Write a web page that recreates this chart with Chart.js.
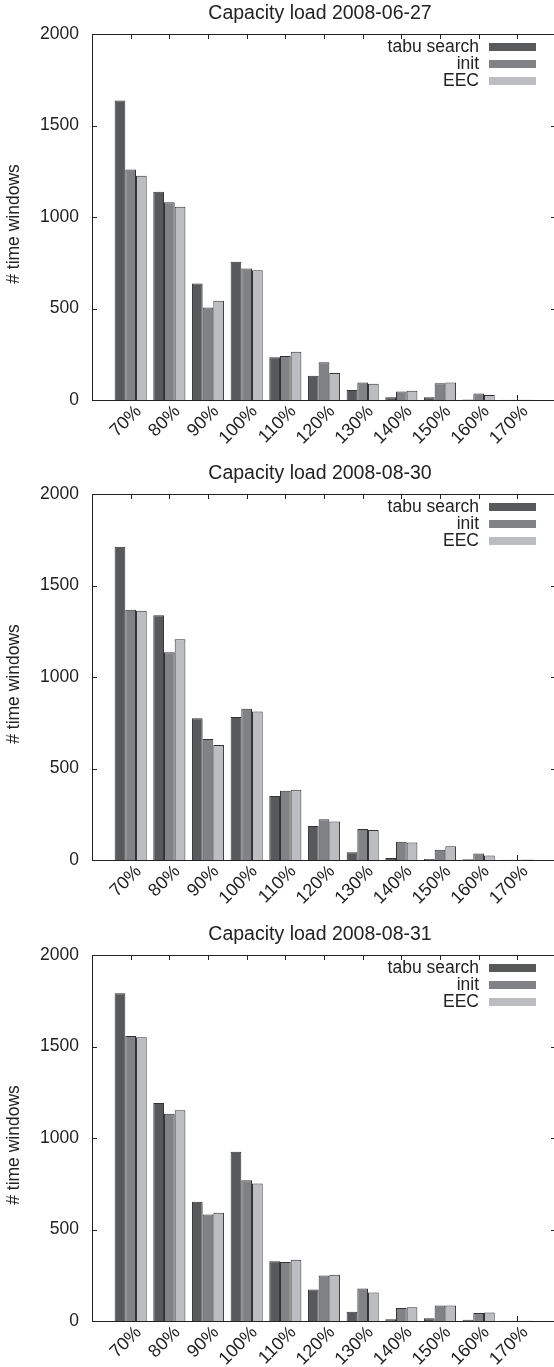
<!DOCTYPE html>
<html><head><meta charset="utf-8">
<script src="https://cdn.jsdelivr.net/npm/chart.js@4.4.1/dist/chart.umd.min.js"></script>
<style>
html,body{margin:0;padding:0;background:#fff;overflow:hidden;width:554px;height:1367px;position:relative;}
.blk{position:absolute;left:0;width:557px;height:446px;}
</style></head><body>
<div class="blk" style="top:0"><canvas id="c0" width="557" height="446"></canvas></div>
<div class="blk" style="top:460px"><canvas id="c1" width="557" height="446"></canvas></div>
<div class="blk" style="top:921px"><canvas id="c2" width="557" height="446"></canvas></div>
<script>
const categories = ['70%','80%','90%','100%','110%','120%','130%','140%','150%','160%','170%'];
const seriesNames = ['tabu search','init','EEC'];
const titles = ['Capacity load 2008-06-27','Capacity load 2008-08-30','Capacity load 2008-08-31'];
const yTitle = '# time windows';
const yTicks = [0,500,1000,1500,2000];

const tabu_0627 = [1637,1138,637,756,233,132,55,15,15,3,2];
const init_0627 = [1260,1080,506,719,240,206,95,47,91,35,1];
const eec_0627  = [1226,1056,543,709,264,148,89,51,95,27,1];

const tabu_0830 = [1712,1337,774,781,350,186,42,11,5,4,2];
const init_0830 = [1368,1135,661,827,379,222,169,100,56,35,1];
const eec_0830  = [1362,1206,628,812,384,211,164,95,75,25,3];

const tabu_0831 = [1791,1191,651,925,327,172,51,9,15,7,2];
const init_0831 = [1558,1133,582,769,322,249,178,71,85,44,1];
const eec_0831  = [1551,1151,591,751,335,253,156,75,85,47,1];

const colors = ['#58595b','#808285','#bcbdc0'];
const FONT = 'Liberation Sans, Arial, Helvetica, sans-serif';
const TXT = '#222';

const framePlugin = {
  id: 'frame',
  beforeDatasetsDraw(chart) {
    const {ctx, chartArea: a, scales: {x, y}} = chart;
    ctx.save();
    ctx.strokeStyle = '#222'; ctx.lineWidth = 1;
    ctx.beginPath();
    y.ticks.forEach(t => {
      const py = Math.round(y.getPixelForValue(t.value)) + 0.5;
      ctx.moveTo(a.left, py); ctx.lineTo(a.left + 5, py);
      ctx.moveTo(a.right, py); ctx.lineTo(a.right - 5, py);
    });
    chart.data.labels.forEach((lab, i) => {
      if (!lab) return;
      const px = Math.round(x.getPixelForTick(i)) + 0.5;
      ctx.moveTo(px, a.bottom); ctx.lineTo(px, a.bottom - 5);
      ctx.moveTo(px, a.top); ctx.lineTo(px, a.top + 5);
    });
    ctx.stroke();
    ctx.restore();
  },
  afterDatasetsDraw(chart) {
    const {ctx, chartArea: a} = chart;
    ctx.save();
    ctx.strokeStyle = '#222'; ctx.lineWidth = 1;
    ctx.strokeRect(Math.round(a.left) + 0.5, Math.round(a.top) + 0.5, Math.round(a.right - a.left), Math.round(a.bottom - a.top));
    // legend
    ctx.font = '17.5px ' + FONT;
    ctx.textAlign = 'right'; ctx.textBaseline = 'middle';
    chart.data.datasets.forEach((ds, i) => {
      const cy = a.top + 12.7 + 17 * i;
      ctx.fillStyle = TXT;
      ctx.fillText(ds.label, a.right - 77, cy);
      ctx.fillStyle = ds.backgroundColor;
      ctx.fillRect(a.right - 67, Math.round(cy - 4), 47, 8);
    });
    // title
    ctx.font = '19.5px ' + FONT;
    ctx.textAlign = 'center'; ctx.fillStyle = TXT;
    ctx.fillText(chart.options.plugins.frameTitle, (a.left + a.right) / 2 - 4, 14);
    // y axis title
    ctx.save();
    ctx.font = '17.5px ' + FONT;
    ctx.translate(14, (a.top + a.bottom) / 2 + 7);
    ctx.rotate(-Math.PI / 2);
    ctx.textAlign = 'center'; ctx.textBaseline = 'middle';
    ctx.fillText(yTitle, 0, 0);
    ctx.restore();
    ctx.restore();
  }
};

function makeChart(id, title, series) {
  const labels = ['', ...categories, ''];
  return new Chart(document.getElementById(id), {
    type: 'bar',
    data: {
      labels,
      datasets: series.map((vals, i) => ({
        label: seriesNames[i],
        data: [null, ...vals, null],
        backgroundColor: colors[i],
        borderColor: '#333',
        borderWidth: 1,
        barPercentage: 1,
        categoryPercentage: 0.83
      }))
    },
    options: {
      responsive: false, animation: false, devicePixelRatio: 1,
      layout: {padding: {top: 34, right: 1, left: 0, bottom: 0}},
      plugins: {legend: {display: false}, tooltip: {enabled: false}, title: {display: false}, frameTitle: title},
      scales: {
        x: {
          offset: false,
          grid: {display: false, drawTicks: false},
          border: {display: false},
          ticks: {autoSkip: false, maxRotation: 45, minRotation: 45, padding: 1, labelOffset: 8, color: TXT, font: {family: FONT, size: 18}},
          afterFit(s) { s.height = 46; s.paddingLeft = 0; s.paddingRight = 0; }
        },
        y: {
          min: 0, max: 2000,
          afterBuildTicks(s) { s.ticks = yTicks.map(v => ({value: v})); },
          grid: {display: false, drawTicks: false},
          border: {display: false},
          ticks: {padding: 13, color: TXT, font: {family: FONT, size: 17.5}, callback: v => String(v)},
          title: {display: false},
          afterFit(s) { s.width = 92; }
        }
      }
    },
    plugins: [framePlugin]
  });
}

makeChart('c0', titles[0], [tabu_0627, init_0627, eec_0627]);
makeChart('c1', titles[1], [tabu_0830, init_0830, eec_0830]);
makeChart('c2', titles[2], [tabu_0831, init_0831, eec_0831]);
</script>
</body></html>
